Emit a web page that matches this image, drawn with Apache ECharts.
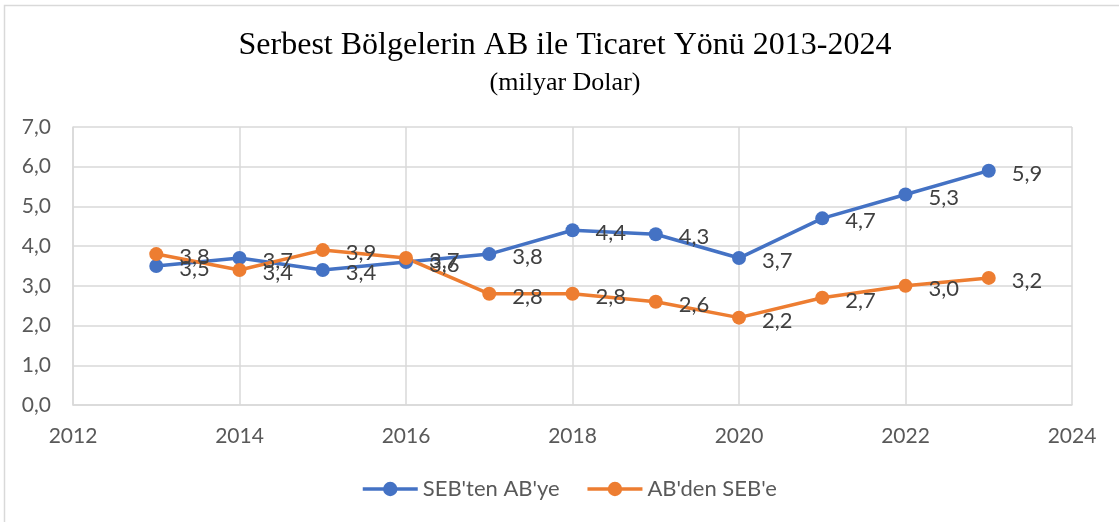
<!DOCTYPE html>
<html>
<head>
<meta charset="utf-8">
<script src="https://cdn.jsdelivr.net/npm/echarts@6/dist/echarts.min.js"></script>
<style>
html, body { margin: 0; padding: 0; background: #fff; }
#chart { width: 1119px; height: 522px; }
</style>
</head>
<body>
<div id="chart"></div>
<script>
var years = [2013, 2014, 2015, 2016, 2017, 2018, 2019, 2020, 2021, 2022, 2023];
var sebToAb = [3.5, 3.7, 3.4, 3.6, 3.8, 4.4, 4.3, 3.7, 4.7, 5.3, 5.9];
var abToSeb = [3.8, 3.4, 3.9, 3.7, 2.8, 2.8, 2.6, 2.2, 2.7, 3.0, 3.2];
var seriesNames = ["SEB'ten AB'ye", "AB'den SEB'e"];
var colors = ['#4472c4', '#ed7d31'];

function pairs(vals){
	var out = [];
	for(var i=0; i<years.length; i++)
		out.push([years[i], vals[i]]);
	return out;
}

function fmt(v){
	return v.toFixed(1).replace('.', ',');
}

var chart = echarts.init(document.getElementById('chart'));

function makeSeries(name, vals, color){
	return {
		name: name,
		type: 'line',
		data: pairs(vals),
		symbol: 'circle',
		symbolSize: 14,
		itemStyle: { color: color },
		lineStyle: { color: color, width: 3.5 },
		label: {
			show: true,
			position: 'right',
			distance: 16,
			offset: [0, 3],
			color: '#404040',
			fontFamily: 'Lato',
			fontSize: 22,
			formatter: function(p){ return fmt(p.value[1]); }
		},
		z: 3
	};
}

var options = {
	animation: false,
	color: colors,
	title: {
		text: 'Serbest Bölgelerin AB ile Ticaret Yönü 2013-2024',
		subtext: '(milyar Dolar)',
		left: 560,
		textAlign: 'center',
		top: 25,
		itemGap: 8,
		textStyle: { fontFamily: 'Liberation Serif', fontSize: 32, fontWeight: 'normal', color: '#000' },
		subtextStyle: { fontFamily: 'Liberation Serif', fontSize: 26, color: '#000' }
	},
	graphic: [{
		type: 'rect',
		shape: { x: 4.5, y: 5.5, width: 1200, height: 600 },
		style: { fill: 'none', stroke: '#d9d9d9', lineWidth: 1.5 },
		silent: true
	}],
	legend: {
		bottom: 17,
		left: 356,
		itemWidth: 55,
		itemHeight: 18,
		itemGap: 26,
		lineStyle: { width: 3.5 },
		textStyle: { fontFamily: 'Lato', fontSize: 22, color: '#595959' },
		data: seriesNames
	},
	grid: {
		left: 73,
		right: 47,
		top: 127,
		bottom: 117
	},
	xAxis: {
		type: 'value',
		min: 2012,
		max: 2024,
		interval: 2,
		axisLine: { show: true, lineStyle: { color: '#d9d9d9', width: 1.5 } },
		axisTick: { show: false },
		splitLine: { show: true, lineStyle: { color: '#d9d9d9', width: 1.5 } },
		axisLabel: { margin: 21, fontFamily: 'Lato', fontSize: 21, color: '#595959', formatter: function(v){ return String(v); } }
	},
	yAxis: {
		type: 'value',
		min: 0,
		max: 7,
		interval: 1,
		axisLine: { show: true, lineStyle: { color: '#d9d9d9', width: 1.5 } },
		axisTick: { show: false },
		splitLine: { show: true, lineStyle: { color: '#d9d9d9', width: 1.5 } },
		axisLabel: { margin: 22, fontFamily: 'Lato', fontSize: 21, color: '#595959', formatter: fmt }
	},
	series: [
		makeSeries(seriesNames[0], sebToAb, colors[0]),
		makeSeries(seriesNames[1], abToSeb, colors[1])
	]
};

chart.setOption(options);
</script>
</body>
</html>
